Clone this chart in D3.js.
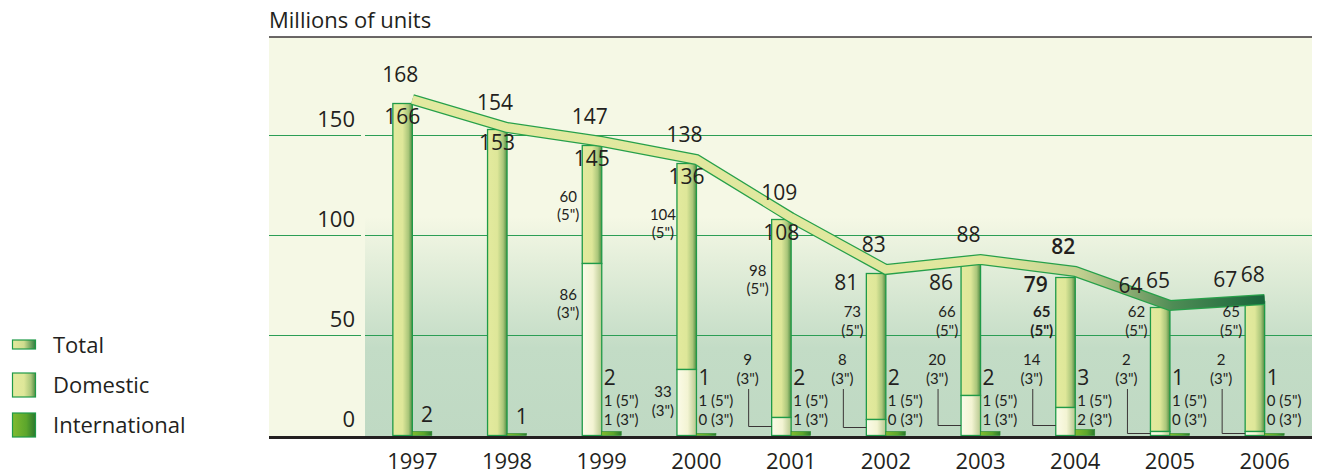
<!DOCTYPE html>
<html><head><meta charset="utf-8">
<script src="https://cdn.jsdelivr.net/npm/d3@7"></script>
<style>
body{margin:0;background:#fff;}
text{font-family:"Open Sans",sans-serif;fill:#231f20;}
text.sm{font-family:Lato,"Open Sans",sans-serif;}
</style>
</head><body>
<svg id="c" width="1322" height="475"></svg>
<script>
const years = ["1997","1998","1999","2000","2001","2002","2003","2004","2005","2006"];
const totals = [168,154,147,138,109,83,88,82,65,68];
const domestic = [166,153,145,136,108,81,86,79,64,67];
const domestic5 = [null,null,60,104,98,73,66,65,62,65];
const domestic3 = [null,null,86,33,9,8,20,14,2,2];
const international = [2,1,2,1,2,2,2,3,1,1];
const international5 = [null,null,1,1,1,1,1,1,1,0];
const international3 = [null,null,1,0,1,0,1,2,0,0];
const yTicks = [0,50,100,150];
const legendLabels = ["Total","Domestic","International"];
const yTitle = "Millions of units";
const emphasisYear = "2004";

const svg = d3.select("#c");
const L = 269, R = 1312, T = 37, B = 436, innerL = 365;
const x = d3.scaleBand().domain(years).range([innerL, R]);
const cx = d => x(d) + x.bandwidth()/2;
const y = d3.scaleLinear().domain([0,150]).range([435.5,135.5]);
const bw = 19.5;

const defs = svg.append("defs");
function hgrad(id, stops, user){
  const g = defs.append("linearGradient").attr("id", id).attr("x1",0).attr("x2",1).attr("y1",0).attr("y2",0);
  if (user){ g.attr("gradientUnits","userSpaceOnUse").attr("x1",user[0]).attr("x2",user[1]); }
  stops.forEach(s => g.append("stop").attr("offset", s[0]).attr("stop-color", s[1]));
}
hgrad("gDom", [[0,"#e3ea9e"],[0.5,"#dee799"],[0.8,"#aac67a"],[1,"#4f8c42"]]);
hgrad("g3", [[0,"#fbfbe8"],[0.55,"#f3f4d3"],[1,"#b7c88e"]]);
hgrad("gInt", [[0,"#80bb30"],[0.6,"#5ca62c"],[1,"#2b782d"]]);
hgrad("gTot", [[0,"#e3ea9e"],[0.5,"#cfdc8e"],[1,"#2f7d40"]]);
hgrad("gRib", [[0,"#e2e9a0"],[0.68,"#e0e79e"],[0.78,"#c2d090"],[0.84,"#8aab72"],[0.89,"#4e8c55"],[1,"#17653a"]], [412,1267]);
const vg = defs.append("linearGradient").attr("id","gBg").attr("x1",0).attr("x2",0).attr("y1",0).attr("y2",1);
[[0,"#f5f8e5"],[0.45,"#f5f8e5"],[0.78,"#c3dcc6"],[1,"#bfd9c3"]].forEach(s=>vg.append("stop").attr("offset",s[0]).attr("stop-color",s[1]));

// background
svg.append("rect").attr("x",L).attr("y",T).attr("width",R-L).attr("height",B-T).attr("fill","#f5f8e5");
svg.append("rect").attr("x",innerL).attr("y",T).attr("width",R-innerL).attr("height",B-T).attr("fill","url(#gBg)");
svg.append("line").attr("x1",L).attr("x2",R).attr("y1",T).attr("y2",T).attr("stroke","#3a3536").attr("stroke-width",1.6);

// title
svg.append("text").attr("x",L).attr("y",28).attr("font-size",22).text(yTitle);

// grid + ticks
yTicks.forEach(t => {
  if (t > 0) {
    svg.append("line").attr("x1",L).attr("x2",innerL-4).attr("y1",y(t)).attr("y2",y(t)).attr("stroke","#2b9e55").attr("stroke-width",1.2);
    svg.append("line").attr("x1",innerL).attr("x2",R).attr("y1",y(t)).attr("y2",y(t)).attr("stroke","#2b9e55").attr("stroke-width",1.2);
  }
  svg.append("text").attr("x",355).attr("y",y(t)-9).attr("text-anchor","end").attr("font-size",22).text(t);
});

// bars
const g = svg.append("g");
years.forEach((yr,i) => {
  const c = cx(yr), left = c - bw;
  if (domestic3[i] == null) {
    g.append("rect").attr("x",left).attr("y",y(domestic[i])).attr("width",bw).attr("height",y(0)-y(domestic[i]))
      .attr("fill","url(#gDom)").attr("stroke","#1f9a48").attr("stroke-width",1.3);
  } else {
    g.append("rect").attr("x",left).attr("y",y(domestic[i])).attr("width",bw).attr("height",y(domestic3[i])-y(domestic[i]))
      .attr("fill","url(#gDom)").attr("stroke","#1f9a48").attr("stroke-width",1.3);
    g.append("rect").attr("x",left).attr("y",y(domestic3[i])).attr("width",bw).attr("height",y(0)-y(domestic3[i]))
      .attr("fill","url(#g3)").attr("stroke","#1f9a48").attr("stroke-width",1.3);
  }
  g.append("rect").attr("x",c).attr("y",y(international[i])).attr("width",bw).attr("height",y(0)-y(international[i]))
    .attr("fill","url(#gInt)").attr("stroke","#2a8a30").attr("stroke-width",0.6);
});

// axis line
svg.append("line").attr("x1",L).attr("x2",R).attr("y1",437.5).attr("y2",437.5).attr("stroke","#231f20").attr("stroke-width",3);

// year labels
years.forEach(yr => svg.append("text").attr("x",cx(yr)).attr("y",469).attr("text-anchor","middle").attr("font-size",22).text(yr));

// total ribbon
const line = d3.line().x((d,i)=>cx(years[i])).y(d=>y(d));
svg.append("path").attr("d",line(totals)).attr("fill","none").attr("stroke","#27a04a").attr("stroke-width",11).attr("stroke-linejoin","miter");
svg.append("path").attr("d",line(totals)).attr("fill","none").attr("stroke","url(#gRib)").attr("stroke-width",8.5).attr("stroke-linejoin","miter");

// labels
const big = 21, small = 15;
function label(xp, yp, txt, size, anchor, weight){
  const t = svg.append("text").attr("x",xp).attr("y",yp).attr("text-anchor",anchor||"start")
    .attr("font-size",size).attr("font-weight",weight||400).text(txt);
  if (size === small) t.attr("class","sm");
  return t;
}
years.forEach((yr,i) => {
  const c = cx(yr), left = c - bw;
  const fw = yr === emphasisYear ? 600 : 400;
  const fwS = yr === emphasisYear ? 700 : 400;
  // total
  label(c-12, y(totals[i])-18, totals[i], big, "middle", fw);
  // domestic
  const top = y(domestic[i]);
  if (i < 5) {
    label(c-10, top+20, domestic[i], big, "middle");
  } else {
    const by = top < 300 ? Math.max(top+14, 290) : top-15;
    label(left-8, by, domestic[i], big, "end", fw);
  }
  // domestic split labels
  if (domestic5[i] != null) {
    const y5 = Math.min(top+56, 317);
    label(left-14, y5, domestic5[i], small, "middle", fwS);
    label(left-14, y5+18.5, '(5")', small, "middle", fwS);
    const ys = y(domestic3[i]);
    if (domestic3[i] >= 30) {
      const y3 = Math.min(ys+36, 397);
      label(left-14, y3, domestic3[i], small, "middle");
      label(left-14, y3+18.5, '(3")', small, "middle");
    } else {
      const lx = left-24;
      label(lx, 365, domestic3[i], small, "middle");
      label(lx, 383.5, '(3")', small, "middle");
      const ly = Math.max((ys + y(0))/2, y(0)-10);
      svg.append("path").attr("d",`M${lx+1},389V${ly}H${left}`).attr("fill","none").attr("stroke","#3a3536").attr("stroke-width",1);
    }
  }
  // international
  if (international5[i] == null) {
    label(c+bw/2+5, y(international[i])-10, international[i], big, "middle");
  } else {
    label(c+2, y(0)-51, international[i], big);
    label(c+2, y(0)-29.5, international5[i]+' (5")', small);
    label(c+2, y(0)-10.5, international3[i]+' (3")', small);
  }
});

// legend
const legFill = ["url(#gTot)","url(#gDom)","url(#gInt)"];
const legBox = [[340,9],[373,24],[413,24]];
const legBase = [353,393,433];
legendLabels.forEach((lab,i) => {
  svg.append("rect").attr("x",12.5).attr("y",legBox[i][0]).attr("width",23).attr("height",legBox[i][1])
    .attr("fill",legFill[i]).attr("stroke","#1f9a48").attr("stroke-width",1.2);
  svg.append("text").attr("x",53).attr("y",legBase[i]).attr("font-size",22).text(lab);
});
</script>
</body></html>
